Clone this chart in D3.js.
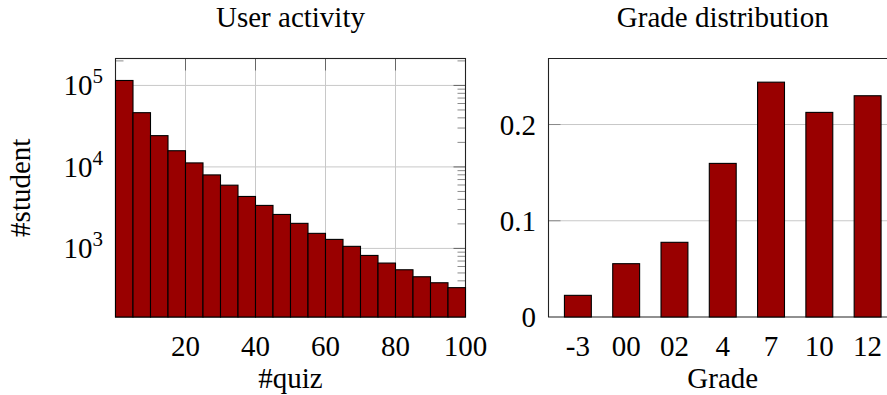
<!DOCTYPE html>
<html>
<head>
<meta charset="utf-8">
<script src="https://cdn.jsdelivr.net/npm/d3@7"></script>
<style>
  body { margin: 0; background: #fff; }
  svg text { font-family: "Liberation Serif", "Times New Roman", serif; fill: #000; }
</style>
</head>
<body>
<svg id="chart" width="887" height="395"></svg>
<script>
// Quizzes taken per student, histogram with bins of 5 quizzes
const quizBinStart = [0, 5, 10, 15, 20, 25, 30, 35, 40, 45, 50, 55, 60, 65, 70, 75, 80, 85, 90, 95];
const quizBinWidth = 5;
const studentCounts = [115000, 46300, 24200, 15800, 11200, 7980, 5970, 4340, 3370, 2610,
                       2030, 1530, 1290, 1060, 820, 661, 547, 449, 379, 330];
const quizTicks = [20, 40, 60, 80, 100];
const studentTicks = [1e3, 1e4, 1e5];
const studentExp = ["3", "4", "5"];

// Share of students per grade on the 7-step scale
const gradeLabels = ["-3", "00", "02", "4", "7", "10", "12"];
const gradeShares = [0.0225, 0.0554, 0.0776, 0.1596, 0.244, 0.2126, 0.2299];
const shareTicks = [0, 0.1, 0.2];
const shareTickLabels = ["0", "0.1", "0.2"];

const svg = d3.select("#chart");
const BAR = "#990000";
const GRID = "#c8c8c8";
const FS = 29;
const TICK_Y = 356;    // baseline of x tick labels
const XLABEL_Y = 388;  // baseline of x axis titles

/* ---------- left panel: user activity (log scale) ---------- */
const L = { left: 115.5, right: 465.5, top: 58.5, bottom: 317 };
const xq = d3.scaleLinear().domain([0, 100]).range([L.left, L.right]);
const yq = d3.scaleLog().domain([144, 214000]).range([L.bottom, L.top]);

const gL = svg.append("g");

// grid
gL.append("g").selectAll("line").data(quizTicks.slice(0, -1)).join("line")
  .attr("x1", d => xq(d)).attr("x2", d => xq(d))
  .attr("y1", L.top).attr("y2", L.bottom)
  .attr("stroke", GRID).attr("stroke-width", 1);
gL.append("g").selectAll("line").data(studentTicks).join("line")
  .attr("x1", L.left).attr("x2", L.right)
  .attr("y1", d => yq(d)).attr("y2", d => yq(d))
  .attr("stroke", GRID).attr("stroke-width", 1);

// minor log ticks on both vertical sides (inward)
const minor = [];
for (let e = 2; e <= 5; e++) for (let m = 2; m <= 9; m++) {
  const v = m * Math.pow(10, e);
  if (v > yq.domain()[0] && v < yq.domain()[1]) minor.push(v);
}
[[L.left, 1], [L.right, -1]].forEach(([x0, dir]) => {
  gL.append("g").selectAll("line").data(minor).join("line")
    .attr("x1", x0).attr("x2", x0 + dir * 8)
    .attr("y1", d => yq(d)).attr("y2", d => yq(d))
    .attr("stroke", "#8a8a8a").attr("stroke-width", 1);
  gL.append("g").selectAll("line").data(studentTicks).join("line")
    .attr("x1", x0).attr("x2", x0 + dir * 12)
    .attr("y1", d => yq(d)).attr("y2", d => yq(d))
    .attr("stroke", "#666").attr("stroke-width", 1);
});
// major x ticks on top and bottom (inward)
[[L.top, 1], [L.bottom, -1]].forEach(([y0, dir]) => {
  gL.append("g").selectAll("line").data(quizTicks.slice(0, -1)).join("line")
    .attr("x1", d => xq(d)).attr("x2", d => xq(d))
    .attr("y1", y0).attr("y2", y0 + dir * 12)
    .attr("stroke", "#666").attr("stroke-width", 1);
});

// frame
gL.append("rect")
  .attr("x", L.left).attr("y", L.top)
  .attr("width", L.right - L.left).attr("height", L.bottom - L.top)
  .attr("fill", "none").attr("stroke", "#222").attr("stroke-width", 1.1);

// bars
gL.append("g").selectAll("rect").data(quizBinStart).join("rect")
  .attr("x", d => xq(d))
  .attr("width", xq(quizBinWidth) - xq(0))
  .attr("y", (d, i) => yq(studentCounts[i]))
  .attr("height", (d, i) => L.bottom - yq(studentCounts[i]))
  .attr("fill", BAR).attr("stroke", "#000").attr("stroke-width", 1.1);

// axis labels
gL.append("g").selectAll("text").data(quizTicks).join("text")
  .attr("x", d => xq(d)).attr("y", TICK_Y)
  .attr("text-anchor", "middle").attr("font-size", FS)
  .text(d => d);

const yl = gL.append("g").selectAll("text").data(studentTicks).join("text")
  .attr("x", 103).attr("y", d => yq(d) + 10)
  .attr("text-anchor", "end").attr("font-size", FS);
yl.append("tspan").text("10");
yl.append("tspan").attr("dy", -12).attr("font-size", 21).text((d, i) => studentExp[i]);

gL.append("text").attr("x", (L.left + L.right) / 2).attr("y", 27)
  .attr("text-anchor", "middle").attr("font-size", FS).text("User activity");
gL.append("text").attr("x", (L.left + L.right) / 2).attr("y", XLABEL_Y)
  .attr("text-anchor", "middle").attr("font-size", FS).text("#quiz");
gL.append("text")
  .attr("transform", `translate(30,${(L.top + L.bottom) / 2}) rotate(-90)`)
  .attr("text-anchor", "middle").attr("font-size", FS).text("#student");

/* ---------- right panel: grade distribution ---------- */
const R = { left: 548.5, right: 897, top: 58.5, bottom: 317 };
const xg = d3.scaleBand().domain(gradeLabels).range([R.left, R.right])
  .paddingInner(0.443).paddingOuter(0.33);
const yg = d3.scaleLinear().domain([0, 0.2686]).range([R.bottom, R.top]);

const gR = svg.append("g");

gR.append("g").selectAll("line").data(shareTicks.slice(1)).join("line")
  .attr("x1", R.left).attr("x2", R.right)
  .attr("y1", d => yg(d)).attr("y2", d => yg(d))
  .attr("stroke", GRID).attr("stroke-width", 1);
gR.append("g").selectAll("line").data(shareTicks.slice(1)).join("line")
  .attr("x1", R.left).attr("x2", R.left + 12)
  .attr("y1", d => yg(d)).attr("y2", d => yg(d))
  .attr("stroke", "#8a8a8a").attr("stroke-width", 1);

gR.append("path")
  .attr("d", `M${R.right},${R.top}H${R.left}V${R.bottom}H${R.right}`)
  .attr("fill", "none").attr("stroke", "#222").attr("stroke-width", 1.1);

gR.append("g").selectAll("rect").data(gradeLabels).join("rect")
  .attr("x", d => xg(d))
  .attr("width", xg.bandwidth())
  .attr("y", (d, i) => yg(gradeShares[i]))
  .attr("height", (d, i) => R.bottom - yg(gradeShares[i]))
  .attr("fill", BAR).attr("stroke", "#000").attr("stroke-width", 1.1);

gR.append("g").selectAll("text").data(gradeLabels).join("text")
  .attr("x", d => xg(d) + xg.bandwidth() / 2).attr("y", TICK_Y)
  .attr("text-anchor", "middle").attr("font-size", FS)
  .text(d => d);
gR.append("g").selectAll("text").data(shareTicks).join("text")
  .attr("x", 536).attr("y", d => yg(d) + 10)
  .attr("text-anchor", "end").attr("font-size", FS)
  .text((d, i) => shareTickLabels[i]);

gR.append("text").attr("x", (R.left + R.right) / 2).attr("y", 27)
  .attr("text-anchor", "middle").attr("font-size", FS).text("Grade distribution");
gR.append("text").attr("x", (R.left + R.right) / 2).attr("y", XLABEL_Y)
  .attr("text-anchor", "middle").attr("font-size", FS).text("Grade");
</script>
</body>
</html>
